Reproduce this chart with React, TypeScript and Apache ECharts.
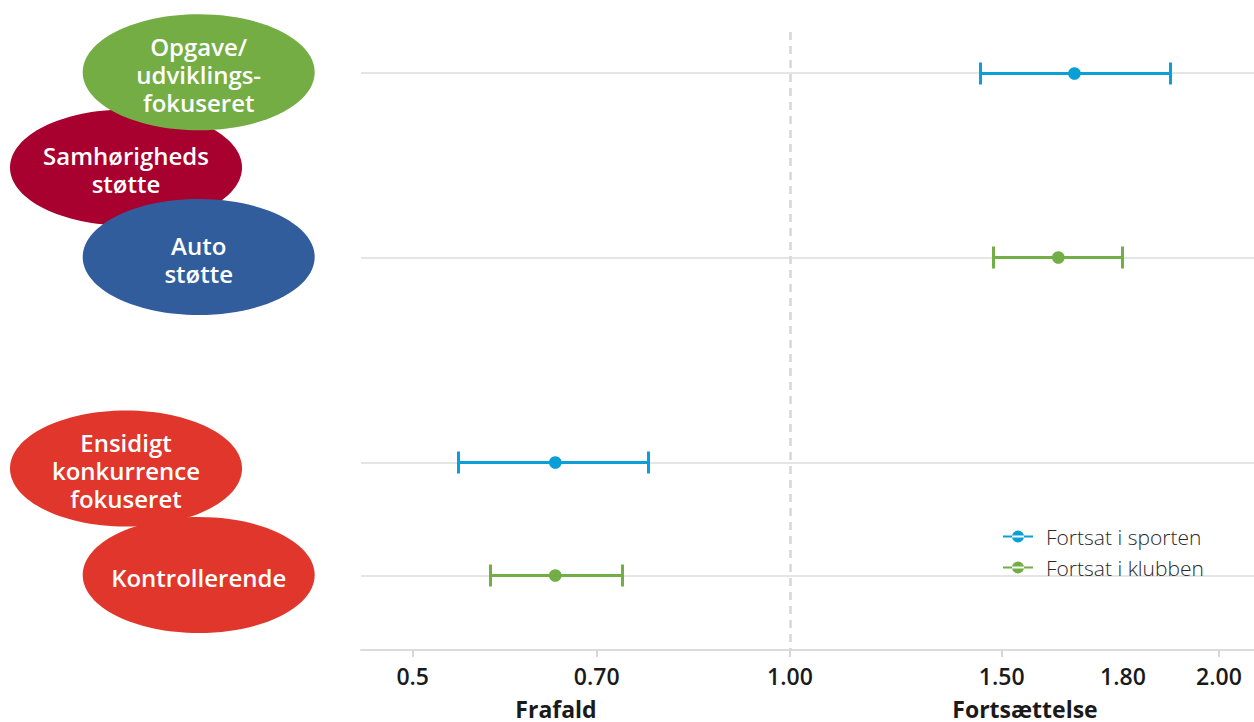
import React, { useEffect, useRef } from "react";
import * as echarts from "echarts";

// Odds ratios per coaching style (point estimate with confidence interval)
const SPORT_NAME = "Fortsat i sporten";
const SPORT_ROWS = ["Opgave/udviklingsfokuseret", "Ensidigt konkurrencefokuseret"];
const SPORT_LOW = [1.45, 0.55];
const SPORT_EST = [1.68, 0.655];
const SPORT_HIGH = [1.9, 0.78];

const CLUB_NAME = "Fortsat i klubben";
const CLUB_ROWS = ["Autostøtte", "Kontrollerende"];
const CLUB_LOW = [1.48, 0.585];
const CLUB_EST = [1.64, 0.655];
const CLUB_HIGH = [1.8, 0.74];

// Odds-ratio axis: labelled stops
const ODDS_STOPS = [0.5, 0.7, 1.0, 1.5, 1.8, 2.0];
const ODDS_LABELS = ["0.5", "0.70", "1.00", "1.50", "1.80", "2.00"];
const TICKED_STOPS = [0.5, 0.7, 1.0, 1.5, 2.0];
const AXIS_TITLES = ["Frafald", "Fortsættelse"];

// Scale: where each stop sits along the axis (1.00 -> 0, 2.00 -> 1)
const STOP_OFFSETS = [-0.8795, -0.4506, 0, 0.4935, 0.7762, 1];

// Vertical placement of the style rows on the y axis
const ROW_LEVEL: Record<string, number> = {
  "Opgave/udviklingsfokuseret": 0.4,
  "Autostøtte": 2.19,
  "Ensidigt konkurrencefokuseret": 4.18,
  "Kontrollerende": 5.28,
};

const BLUE = "#0a9fd6";
const GREEN = "#72ad45";

function toAxis(v: number): number {
  const s = ODDS_STOPS;
  const o = STOP_OFFSETS;
  let i = 0;
  while (i < s.length - 2 && v > s[i + 1]) i++;
  const t = (v - s[i]) / (s[i + 1] - s[i]);
  return o[i] + t * (o[i + 1] - o[i]);
}

function labelFor(offset: number): string {
  for (let i = 0; i < STOP_OFFSETS.length; i++) {
    if (Math.abs(STOP_OFFSETS[i] - offset) < 1e-6) return ODDS_LABELS[i];
  }
  return "";
}

function buildRows(rows: string[], low: number[], est: number[], high: number[]) {
  return rows.map((r, i) => [toAxis(low[i]), toAxis(est[i]), toAxis(high[i]), ROW_LEVEL[r]]);
}

// Legend glyph: a short line with a dot in the middle
const LEGEND_ICON = "path://M0,5H30V7H0Z M9,6A6,6 0 1,0 21,6A6,6 0 1,0 9,6Z";

// Snap to pixel centres so the 3px strokes stay crisp
const crisp = (v: number) => Math.round(v - 0.5) + 0.5;

const renderErrorBar = (_params: any, api: any) => {
  const y = api.value(3);
  const lo = api.coord([api.value(0), y]);
  const mid = api.coord([api.value(1), y]);
  const hi = api.coord([api.value(2), y]);
  const color = api.visual("color");
  const cap = 11;
  const yy = crisp(lo[1]);
  const x1 = crisp(lo[0]);
  const x2 = crisp(hi[0]);
  const stroke = { stroke: color, lineWidth: 3 };
  return {
    type: "group",
    children: [
      { type: "line", shape: { x1, y1: yy, x2, y2: yy }, style: stroke },
      { type: "line", shape: { x1, y1: yy - cap, x2: x1, y2: yy + cap }, style: stroke },
      { type: "line", shape: { x1: x2, y1: yy - cap, x2, y2: yy + cap }, style: stroke },
      { type: "circle", shape: { cx: mid[0], cy: yy, r: 6.3 }, style: { fill: color } },
    ],
  };
};

const FONT = "'Open Sans', sans-serif";

function bubble(cx: number, cy: number, color: string, text: string) {
  return [
    {
      type: "ellipse",
      shape: { cx, cy, rx: 116, ry: 58 },
      style: { fill: color },
      silent: true,
    },
    {
      type: "text",
      x: cx,
      y: cy + 2,
      silent: true,
      style: {
        text,
        fill: "#ffffff",
        font: `600 24px ${FONT}`,
        lineHeight: 28,
        align: "center",
        verticalAlign: "middle",
      },
    },
  ];
}

function axisTitle(x: number, text: string) {
  return {
    type: "text",
    x,
    y: 709,
    silent: true,
    style: {
      text,
      fill: "#1a1a1a",
      font: `700 23px ${FONT}`,
      lineHeight: 24,
      align: "center",
      verticalAlign: "middle",
    },
  };
}

export default function App() {
  const ref = useRef<HTMLDivElement>(null);

  useEffect(() => {
    if (!ref.current) return;
    const chart = echarts.init(ref.current, undefined, { renderer: "svg" });

    const option: any = {
      animation: false,
      backgroundColor: "#ffffff",
      grid: { left: 361, right: 0, top: 32, bottom: 72, containLabel: false },
      xAxis: {
        type: "value",
        min: -1,
        max: 1.0816,
        position: "bottom",
        splitLine: { show: false },
        axisLine: { show: true, onZero: false, lineStyle: { color: "#dcdcdc", width: 2 } },
        axisTick: {
          show: true,
          customValues: TICKED_STOPS.map(toAxis),
          length: 7,
          lineStyle: { color: "#d6d6d6", width: 2 },
        },
        axisLabel: {
          customValues: STOP_OFFSETS,
          formatter: (v: number) => labelFor(v),
          margin: 14,
          color: "#1a1a1a",
          fontFamily: FONT,
          fontWeight: 600,
          fontSize: 23,
        },
      },
      yAxis: {
        type: "value",
        inverse: true,
        min: 0,
        max: 6,
        show: false,
        splitLine: { show: false },
      },
      legend: {
        orient: "vertical",
        left: 1003,
        top: 526,
        padding: 0,
        itemWidth: 30,
        itemHeight: 12,
        itemGap: 10,
        selectedMode: false,
        data: [
          { name: SPORT_NAME, icon: LEGEND_ICON },
          { name: CLUB_NAME, icon: LEGEND_ICON },
        ],
        textStyle: {
          color: "#2a2a2a",
          fontFamily: FONT,
          fontWeight: 300,
          fontSize: 21,
          lineHeight: 20,
          padding: [0, 0, 0, 8],
        },
      },
      series: [
        {
          name: "rows",
          type: "line",
          data: [],
          z: 1,
          silent: true,
          markLine: {
            silent: true,
            z: 1,
            symbol: "none",
            label: { show: false },
            data: [
              ...Object.values(ROW_LEVEL).map((lvl) => ({
                yAxis: lvl,
                lineStyle: { color: "#dddddd", width: 1.5, type: "solid" },
              })),
              {
                xAxis: toAxis(1.0),
                lineStyle: { color: "#d8d8d8", width: 2.6, type: [8, 6] },
              },
            ],
          },
        },
        {
          name: SPORT_NAME,
          type: "custom",
          z: 3,
          itemStyle: { color: BLUE },
          encode: { x: [0, 1, 2], y: 3 },
          data: buildRows(SPORT_ROWS, SPORT_LOW, SPORT_EST, SPORT_HIGH),
          renderItem: renderErrorBar,
        },
        {
          name: CLUB_NAME,
          type: "custom",
          z: 3,
          itemStyle: { color: GREEN },
          encode: { x: [0, 1, 2], y: 3 },
          data: buildRows(CLUB_ROWS, CLUB_LOW, CLUB_EST, CLUB_HIGH),
          renderItem: renderErrorBar,
        },
      ],
      graphic: [
        // coaching-style bubbles
        ...bubble(126, 167.5, "#a8002f", "Samhørigheds\nstøtte"),
        ...bubble(198.7, 72.3, "#74ad44", "Opgave/\nudviklings-\nfokuseret"),
        ...bubble(198.7, 257, "#315d9c", "Auto\nstøtte"),
        ...bubble(126, 468.5, "#e0362b", "Ensidigt\nkonkurrence\nfokuseret"),
        ...bubble(198.7, 575, "#e0362b", "Kontrollerende"),
        // axis titles
        axisTitle(556, AXIS_TITLES[0]),
        axisTitle(1025, AXIS_TITLES[1]),
      ],
    };

    chart.setOption(option);
    return () => chart.dispose();
  }, []);

  return (
    <div
      ref={ref}
      style={{ position: "fixed", left: 0, top: 0, width: 1254, height: 722, background: "#fff" }}
    />
  );
}
